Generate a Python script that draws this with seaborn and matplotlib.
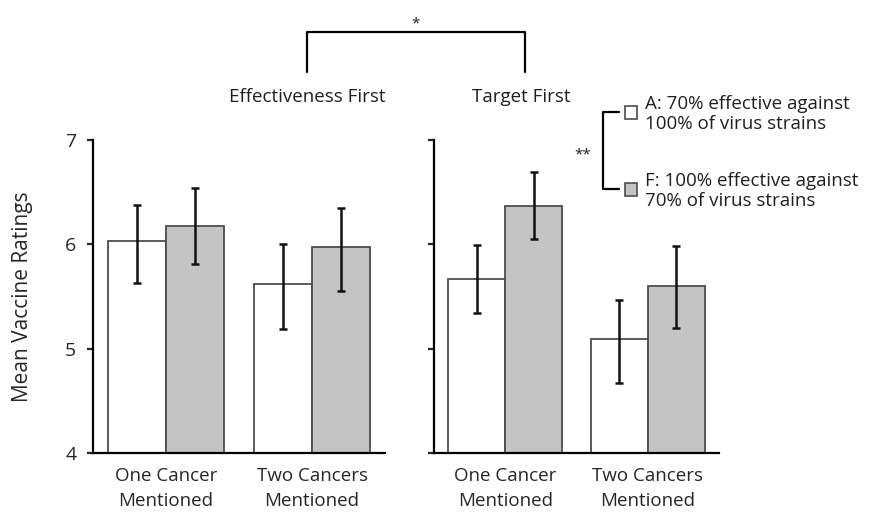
import numpy as np
import pandas as pd
import seaborn as sns
import matplotlib.pyplot as plt
from matplotlib.lines import Line2D
from matplotlib.patches import Rectangle

sns.set_style("ticks")
plt.rcParams['font.family'] = ['Open Sans', 'DejaVu Sans']
plt.rcParams['text.color'] = '#231f20'

# data
categories = ["One Cancer\nMentioned", "Two Cancers\nMentioned"]
vaccines = ["A", "F"]
panels = ["Effectiveness First", "Target First"]

eff_a_mean = [6.03, 5.62]
eff_a_lo = [5.63, 5.19]
eff_a_hi = [6.38, 6.00]
eff_f_mean = [6.18, 5.97]
eff_f_lo = [5.81, 5.55]
eff_f_hi = [6.54, 6.35]

tgt_a_mean = [5.67, 5.09]
tgt_a_lo = [5.34, 4.67]
tgt_a_hi = [5.99, 5.47]
tgt_f_mean = [6.37, 5.60]
tgt_f_lo = [6.05, 5.20]
tgt_f_hi = [6.69, 5.98]

legend_labels = ["A: 70% effective against\n100% of virus strains",
                 "F: 100% effective against\n70% of virus strains"]
bar_colors = {"A": "white", "F": "#c3c4c3"}

W, H = 872, 517
fig = plt.figure(figsize=(W / 100, H / 100), dpi=100)
ax_l = fig.add_axes([93 / W, 1 - 453 / H, 292 / W, 313 / H])
ax_r = fig.add_axes([434 / W, 1 - 453 / H, 285 / W, 313 / H])


def draw_panel(ax, means, los, his):
    df = pd.DataFrame({
        "category": categories * 2,
        "vaccine": [v for v in vaccines for _ in categories],
        "rating": means[0] + means[1],
    })
    sns.barplot(data=df, x="category", y="rating", hue="vaccine", hue_order=vaccines,
                palette=bar_colors, saturation=1, width=0.8, errorbar=None,
                edgecolor="#4d4d4d", linewidth=1.3, legend=False, ax=ax)
    # error bars on top of each bar
    for cont, m, lo, hi in zip(ax.containers, means, los, his):
        xs = [b.get_x() + b.get_width() / 2 for b in cont]
        m = np.array(m)
        err = [m - np.array(lo), np.array(hi) - m]
        ax.errorbar(xs, m, yerr=err, fmt="none", ecolor="#111111",
                    elinewidth=1.8, capsize=3, capthick=1.8, zorder=5)
    ax.set_ylim(4, 7)
    ax.set_xlim(-0.5, 1.5)
    ax.set_yticks([4, 5, 6, 7])
    ax.set_xlabel("")
    ax.set_ylabel("")
    sns.despine(ax=ax)
    for sp in ["left", "bottom"]:
        ax.spines[sp].set_linewidth(1.6)
        ax.spines[sp].set_color("black")
    ax.tick_params(axis="y", direction="out", length=4, width=1.6, labelsize=14, pad=8)
    ax.tick_params(axis="x", length=0, labelsize=13.5, pad=10)
    for t in ax.get_xticklabels():
        t.set_linespacing(1.5)


draw_panel(ax_l, [eff_a_mean, eff_f_mean], [eff_a_lo, eff_f_lo], [eff_a_hi, eff_f_hi])
draw_panel(ax_r, [tgt_a_mean, tgt_f_mean], [tgt_a_lo, tgt_f_lo], [tgt_a_hi, tgt_f_hi])
ax_r.set_yticklabels([])
ax_l.set_ylabel("Mean Vaccine Ratings", fontsize=15)
ax_l.yaxis.set_label_coords(-0.205, 0.5)

# panel titles and significance bracket
fx = lambda px: px / W
fy = lambda py: 1 - py / H
fig.text(fx(307), fy(97), panels[0], ha="center", va="center", fontsize=13.5)
fig.text(fx(521), fy(97), panels[1], ha="center", va="center", fontsize=13.5)
fig.add_artist(Line2D([fx(307), fx(307), fx(525), fx(525)],
                      [fy(72), fy(32), fy(32), fy(72)], color="black", lw=1.6))
fig.text(fx(416), fy(27), "*", ha="center", va="baseline", fontsize=11)

# custom legend with bracket
fig.add_artist(Line2D([fx(619), fx(603), fx(603), fx(619)],
                      [fy(112), fy(112), fy(189), fy(189)], color="black", lw=1.6))
fig.text(fx(583), fy(158), "**", ha="center", va="baseline", fontsize=11)
for yc, v, lab in zip([112, 189], vaccines, legend_labels):
    fig.add_artist(Rectangle((fx(625), fy(yc + 6.5)), 12 / W, 13 / H,
                             facecolor=bar_colors[v], edgecolor="#4d4d4d", lw=1.2))
    fig.text(fx(645), fy(yc + 2), lab, ha="left", va="center", fontsize=13.5,
             linespacing=1.2)

fig.savefig("out.png", dpi=100)
